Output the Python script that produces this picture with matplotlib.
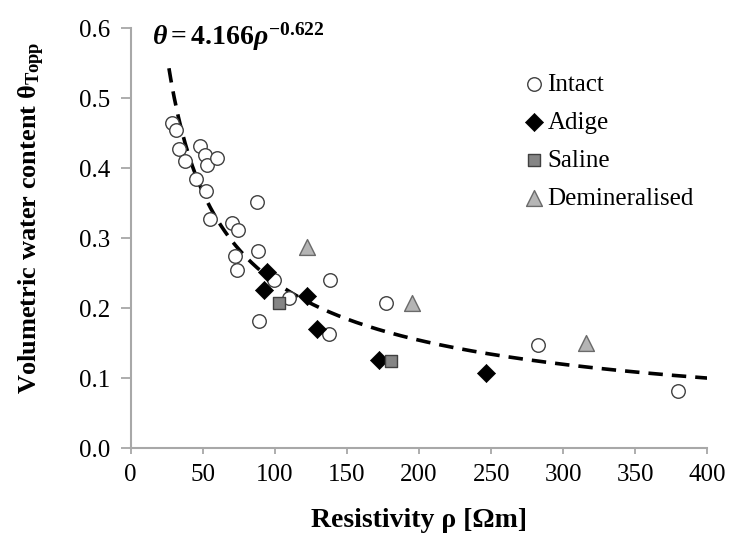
import numpy as np
from matplotlib import pyplot as plt

# values
intact_rho = [28.4, 31.4, 33.7, 37.7, 45.1, 48.1, 51.5, 52.7, 52.2, 60.1, 55.0, 70.0, 74.6,
              87.8, 72.3, 88.1, 73.5, 99.6, 110.0, 138.2, 89.2, 137.5, 177.0, 282.2, 379.3]
intact_theta = [0.464, 0.454, 0.427, 0.410, 0.384, 0.431, 0.419, 0.404, 0.368, 0.415, 0.327, 0.322, 0.312,
                0.352, 0.274, 0.281, 0.255, 0.241, 0.214, 0.241, 0.182, 0.163, 0.208, 0.148, 0.082]

adige_rho = [92.6, 94.3, 122.0, 129.0, 172.4, 246.4]
adige_theta = [0.226, 0.251, 0.217, 0.171, 0.126, 0.107]

saline_rho = [103.0, 180.5]
saline_theta = [0.208, 0.125]

demin_rho = [122.0, 194.9, 315.7]
demin_theta = [0.288, 0.208, 0.151]

# fitted power law theta = a * rho^b
fit_a = 4.166
fit_b = -0.622
fit_range = [26.5, 400]

x_ticks = [0, 50, 100, 150, 200, 250, 300, 350, 400]
y_ticks = [0.0, 0.1, 0.2, 0.3, 0.4, 0.5, 0.6]

plt.rcParams['font.family'] = 'Liberation Serif'
plt.rcParams['mathtext.fontset'] = 'custom'
plt.rcParams['mathtext.rm'] = 'Liberation Serif:bold'
plt.rcParams['mathtext.it'] = 'Liberation Serif:bold:italic'
plt.rcParams['mathtext.bf'] = 'Liberation Serif:bold'

fig = plt.figure(figsize=(7.32, 5.41), dpi=100)
ax = fig.add_axes([0.1786, 0.1713, 0.7878, 0.7769])

rho_fit = np.linspace(fit_range[0], fit_range[1], 300)
ax.plot(rho_fit, fit_a * rho_fit ** fit_b, color="black", linewidth=2.6,
        linestyle=(0, (4, 2.5)), zorder=2)

ax.scatter(intact_rho, intact_theta, s=95, marker="o", facecolor="white",
           edgecolor="#404040", linewidth=1.0, label="Intact", zorder=3)
ax.scatter(adige_rho, adige_theta, s=85, marker="D", facecolor="black",
           edgecolor="black", linewidth=0.5, label="Adige", zorder=4)
ax.scatter(saline_rho, saline_theta, s=85, marker="s", facecolor="#858585",
           edgecolor="#404040", linewidth=1.0, label="Saline", zorder=4)
ax.scatter(demin_rho, demin_theta, s=130, marker="^", facecolor="#b5b5b5",
           edgecolor="#6a6a6a", linewidth=1.0, label="Demineralised", zorder=4)

ax.set_xlim(0, 400)
ax.set_ylim(0, 0.6)
ax.set_xticks(x_ticks)
ax.set_yticks(y_ticks)
ax.set_yticklabels([f"{v:.1f}" for v in y_ticks])
ax.tick_params(labelsize=18, color="#a0a0a0", width=1.2, direction="out")
ax.tick_params(axis="y", length=7, pad=8)
ax.tick_params(axis="x", length=4, pad=7)

for side in ["top", "right"]:
    ax.spines[side].set_visible(False)
for side in ["left", "bottom"]:
    ax.spines[side].set_color("#a8a8a8")
    ax.spines[side].set_linewidth(1.5)

ax.set_xlabel("Resistivity ρ [Ωm]", fontsize=20, fontweight="bold", labelpad=16)
ax.set_ylabel(r"Volumetric water content $\mathrm{θ}_{\mathrm{Topp}}$", fontsize=19,
              fontweight="bold")
ax.yaxis.set_label_coords(-0.145, 0.548)

ax.text(14.5, 0.588, r"$θ = 4.166ρ^{-0.622}$", fontsize=20, va="center", ha="left",
        clip_on=False)

plt.legend(loc="upper left", bbox_to_anchor=(0.66, 0.916), frameon=False, fontsize=18,
           handletextpad=0.05, labelspacing=0.62, borderaxespad=0, handlelength=1.0)

#save figure
plt.savefig("out.png", dpi=100)
